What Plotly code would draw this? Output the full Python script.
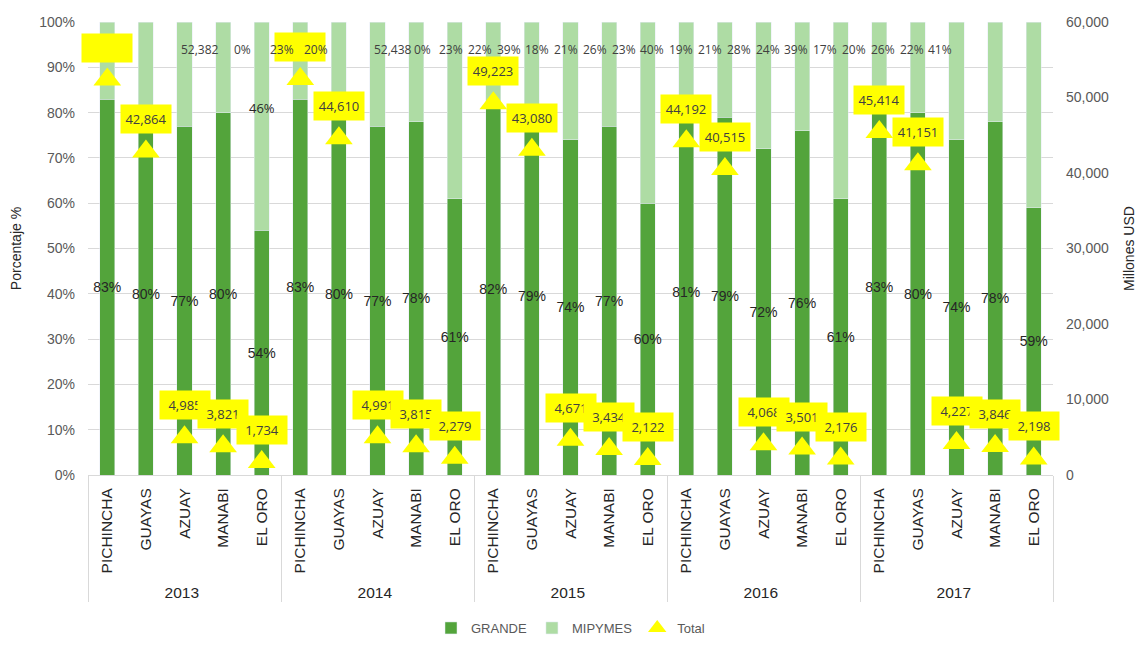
import plotly.graph_objects as go

years = ["2013", "2014", "2015", "2016", "2017"]
provincias = ["PICHINCHA", "GUAYAS", "AZUAY", "MANABI", "EL ORO"]

grande = [83, 80, 77, 80, 54,
          83, 80, 77, 78, 61,
          82, 79, 74, 77, 60,
          81, 79, 72, 76, 61,
          83, 80, 74, 78, 59]
mipymes = [17, 20, 23, 20, 46,
           17, 20, 23, 22, 39,
           18, 21, 26, 23, 40,
           19, 21, 28, 24, 39,
           17, 20, 26, 22, 41]
total = [52382, 42864, 4985, 3821, 1734,
         52438, 44610, 4991, 3815, 2279,
         49223, 43080, 4671, 3434, 2122,
         44192, 40515, 4068, 3501, 2176,
         45414, 41151, 4227, 3846, 2198]

# Excel pushed some labels out of place; these are the stray ones at the top
stray_2013 = ["52,382", "0%", "23%", "20%"]
stray_2013_pos = [2.41, 3.5, 4.53, 5.41]
stray_rest = ["52,438", "0%", "23%", "22%", "39%", "18%", "21%", "26%", "23%", "40%",
              "19%", "21%", "28%", "24%", "39%", "17%", "20%", "26%", "22%", "41%"]
hidden_total = [0, 5]  # boxes whose value was moved to the top row

x_year = [y for y in years for _ in provincias]
x_prov = provincias * len(years)
idx = list(range(len(x_prov)))

GREEN = '#53A43B'
LIGHT = '#AEDCA4'
YELLOW = '#FFFF00'
TXT = '#404040'

fig = go.Figure()

fig.add_trace(go.Bar(
    x=[x_year, x_prov], y=grande, name='GRANDE', marker_color=GREEN,
    text=[f"{v}%" for v in grande], textposition='inside', insidetextanchor='middle',
    textangle=0, constraintext='none', textfont=dict(color='#262626', size=14),
    width=0.39
))
fig.add_trace(go.Bar(
    x=[x_year, x_prov], y=mipymes, name='MIPYMES', marker_color=LIGHT,
    width=0.39
))
fig.add_trace(go.Scatter(
    x=idx, y=total, name='Total', mode='markers',
    marker=dict(symbol='triangle-up', size=24, color=YELLOW),
    xaxis='x2', yaxis='y2'
))

annotations = []
for i, v in enumerate(total):
    label = " " if i in hidden_total else f"{v:,}"
    annotations.append(dict(
        x=i, y=v, xref='x2', yref='y2', yshift=32, text=label, showarrow=False,
        bgcolor=YELLOW, width=44, height=22, borderpad=3,
        font=dict(size=13, color=TXT, family='Open Sans')
    ))

for t, p in zip(stray_2013, stray_2013_pos):
    annotations.append(dict(x=p, y=94, xref='x2', yref='y', text=t, showarrow=False,
                            font=dict(size=12, color=TXT, family='Open Sans')))
for k, t in enumerate(stray_rest):
    annotations.append(dict(x=7.41 + 0.746 * k, y=94, xref='x2', yref='y', text=t,
                            showarrow=False, font=dict(size=12, color=TXT, family='Open Sans')))
annotations.append(dict(x=4.02, y=81, xref='x2', yref='y', text="46%", showarrow=False,
                        font=dict(size=13, color='#262626', family='Open Sans')))

# page has an 8px body margin, so the figure is sized to fit inside it
fig.update_layout(
    width=1138, height=635,
    barmode='stack',
    paper_bgcolor='white', plot_bgcolor='white',
    font=dict(family='Liberation Sans', color=TXT, size=13),
    margin=dict(l=80, r=93, t=14, b=168),
    showlegend=True,
    legend=dict(orientation='h', x=0.5, xanchor='center', yref='container', y=0.0,
                yanchor='bottom', font=dict(size=13, color='#595959'),
                traceorder='normal', itemwidth=30),
    annotations=annotations,
    xaxis=dict(type='multicategory', tickangle=-90, showline=True, linecolor='#D9D9D9',
               showdividers=True, dividercolor='#D9D9D9', dividerwidth=1, automargin=False,
               showgrid=False, ticks='', ticklabelstandoff=6,
               tickfont=dict(size=15.5, color='#262626')),
    xaxis2=dict(overlaying='x', range=[-0.5, 24.5], visible=False),
    yaxis=dict(range=[0, 100], dtick=10, ticksuffix='%', showgrid=True, gridcolor='#D9D9D9',
               zeroline=False, automargin=False, ticklabelstandoff=12,
               title=dict(text='Porcentaje %', font=dict(size=14, color='#262626'), standoff=14),
               tickfont=dict(size=14, color='#595959')),
    yaxis2=dict(range=[0, 60000], dtick=10000, tickformat=',', overlaying='y', side='right',
                anchor='x2', showgrid=False, zeroline=False, automargin=False,
                ticklabelstandoff=12,
                title=dict(text='Millones USD', font=dict(size=14, color='#262626'), standoff=16),
                tickfont=dict(size=14, color='#595959')),
)

fig.write_html("out.html")
